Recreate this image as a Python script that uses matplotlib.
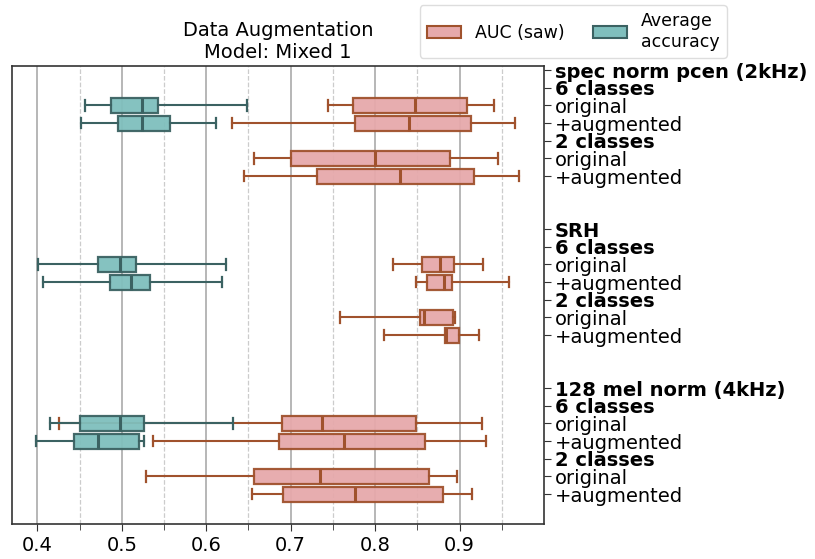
import matplotlib
matplotlib.use("Agg")
import matplotlib.pyplot as plt
from matplotlib.patches import Patch

# row labels (top to bottom), blanks between groups
row_labels = ["spec norm pcen (2kHz)", "6 classes", "original", "+augmented",
              "2 classes", "original", "+augmented", "", "",
              "SRH", "6 classes", "original", "+augmented",
              "2 classes", "original", "+augmented", "", "",
              "128 mel norm (4kHz)", "6 classes", "original", "+augmented",
              "2 classes", "original", "+augmented"]
bold_labels = ["spec norm pcen (2kHz)", "SRH", "128 mel norm (4kHz)", "6 classes", "2 classes"]

# AUC (saw): rows, whislo, q1, med, q3, whishi
auc_rows = [2, 3, 5, 6, 11, 12, 14, 15, 20, 21, 23, 24]
auc_whislo = [0.744, 0.630, 0.657, 0.645, 0.821, 0.848, 0.758, 0.810, 0.426, 0.537, 0.529, 0.654]
auc_q1 = [0.774, 0.776, 0.700, 0.731, 0.856, 0.861, 0.853, 0.883, 0.690, 0.686, 0.656, 0.691]
auc_med = [0.847, 0.840, 0.800, 0.829, 0.877, 0.881, 0.858, 0.884, 0.737, 0.763, 0.735, 0.776]
auc_q3 = [0.909, 0.913, 0.889, 0.917, 0.894, 0.891, 0.892, 0.899, 0.848, 0.859, 0.864, 0.880]
auc_whishi = [0.941, 0.966, 0.945, 0.970, 0.928, 0.958, 0.895, 0.923, 0.926, 0.931, 0.897, 0.915]

# Average accuracy (6 classes only)
acc_rows = [2, 3, 11, 12, 20, 21]
acc_whislo = [0.456, 0.452, 0.401, 0.407, 0.415, 0.398]
acc_q1 = [0.487, 0.495, 0.472, 0.486, 0.450, 0.443]
acc_med = [0.524, 0.524, 0.498, 0.511, 0.498, 0.472]
acc_q3 = [0.543, 0.557, 0.517, 0.534, 0.526, 0.521]
acc_whishi = [0.648, 0.612, 0.624, 0.619, 0.632, 0.526]

auc_face, auc_edge = "#e6a9ab", "#a0522d"
acc_face, acc_edge = "#7fbfbd", "#3b6262"


def make_stats(lo, q1, med, q3, hi):
    return [dict(whislo=a, q1=b, med=c, q3=d, whishi=e, fliers=[])
            for a, b, c, d, e in zip(lo, q1, med, q3, hi)]


def draw(ax, stats, rows, face, edge):
    ax.bxp(stats, positions=rows, vert=False, widths=0.85, patch_artist=True,
           boxprops=dict(facecolor=face, edgecolor=edge, linewidth=1.6, alpha=0.95),
           medianprops=dict(color=edge, linewidth=2.2),
           whiskerprops=dict(color=edge, linewidth=1.5),
           capprops=dict(color=edge, linewidth=1.6), capwidths=0.6,
           showfliers=False, manage_ticks=False, zorder=3)


fig = plt.figure(figsize=(8.15, 5.59), dpi=100)
ax = fig.add_axes([0.0147, 0.0626, 0.6528, 0.8194])

draw(ax, make_stats(auc_whislo, auc_q1, auc_med, auc_q3, auc_whishi), auc_rows, auc_face, auc_edge)
draw(ax, make_stats(acc_whislo, acc_q1, acc_med, acc_q3, acc_whishi), acc_rows, acc_face, acc_edge)

ax.set_xlim(0.37, 1.0)
ax.set_ylim(25.69, -0.23)
ax.set_xticks([0.4, 0.5, 0.6, 0.7, 0.8, 0.9])
ax.set_xticks([0.45, 0.55, 0.65, 0.75, 0.85, 0.95], minor=True)
ax.grid(True, which="major", axis="x", color="#aaaaaa", linewidth=1.2, zorder=0)
ax.grid(True, which="minor", axis="x", color="#cccccc", linestyle="--", linewidth=0.9, zorder=0)
ax.set_axisbelow(True)
ax.tick_params(axis="x", labelsize=14, length=5, color="#333333")
ax.tick_params(axis="x", which="minor", length=4, color="#333333")

tick_pos = [i for i, lab in enumerate(row_labels) if lab]
ax.set_yticks(tick_pos)
ax.set_yticklabels([row_labels[i] for i in tick_pos])
ax.yaxis.tick_right()
ax.tick_params(axis="y", labelsize=14, length=5, color="#333333", pad=3)
for t in ax.get_yticklabels():
    if t.get_text() in bold_labels:
        t.set_fontweight("bold")

for s in ax.spines.values():
    s.set_color("#333333")
    s.set_linewidth(1.2)

ax.set_title("Data Augmentation\nModel: Mixed 1", fontsize=14, pad=6)

handles = [Patch(facecolor=auc_face, edgecolor=auc_edge, linewidth=1.5),
           Patch(facecolor=acc_face, edgecolor=acc_edge, linewidth=1.5)]
fig.legend(handles, ["AUC (saw)", "Average\naccuracy"], ncol=2, fontsize=12.5,
           loc="upper left", bbox_to_anchor=(0.515, 0.991), borderaxespad=0,
           handlelength=2.0, columnspacing=1.6, framealpha=1.0, edgecolor="#dddddd")

fig.savefig("out.png", dpi=100)
